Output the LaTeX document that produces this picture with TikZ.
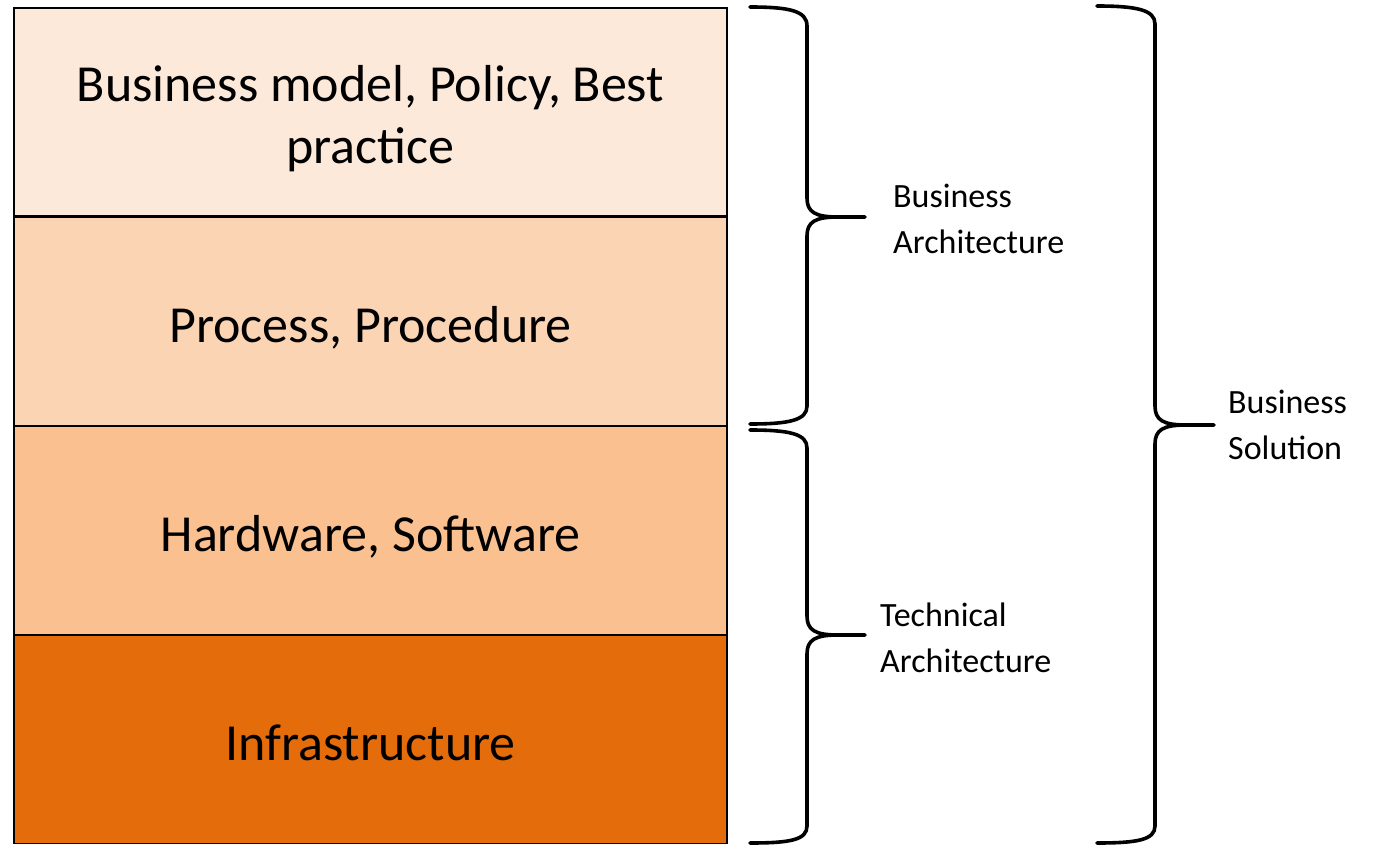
\documentclass[tikz,border=0pt]{standalone}
\usepackage{fontspec}
\setmainfont{Carlito}
\usepackage{tikz}
\usetikzlibrary{positioning}

\definecolor{tierA}{HTML}{FDE9D9}
\definecolor{tierB}{HTML}{FBD4B4}
\definecolor{tierC}{HTML}{FAC090}
\definecolor{tierD}{HTML}{E46C0A}

\tikzset{
  layer/.style={draw=black,line width=1.1pt,minimum width=713pt,minimum height=208pt,
    inner sep=0pt,align=center,text height=54pt,text depth=12pt,
    font=\fontsize{52}{62}\selectfont},
  archbrace/.style={draw=black,line width=3.6pt,line join=round,line cap=round},
  scope label/.style={anchor=west,align=left,inner sep=0pt,font=\fontsize{34}{46}\selectfont}
}

\begin{document}
\begin{tikzpicture}[x=1pt,y=-1pt]
\useasboundingbox (0,0) rectangle (1390,848);
\begin{scope}[shift={(0,0)}]
\node[layer,fill=tierA,text height=116pt] (model) at (370.5,112) {Business model, Policy, Best\\practice};
\node[layer,fill=tierB,below=0pt of model] (process) {Process, Procedure};
\node[layer,fill=tierC,below=0pt of process] (ware) {Hardware, Software};
\node[layer,fill=tierD,below=0pt of ware] (infra) {Infrastructure};
\end{scope}
\begin{scope}[shift={(0,0)}]
\draw[archbrace] (750,7) .. controls (790,7) and (807,11) .. (807,26) -- (807,198)
  .. controls (807,212) and (815,217) .. (838,217) -- (865,217) -- (838,217)
  .. controls (815,217) and (807,222) .. (807,236) -- (807,406)
  .. controls (807,420) and (790,424) .. (750,424);
\draw[archbrace] (750,430) .. controls (790,430) and (807,434) .. (807,448) -- (807,616)
  .. controls (807,630) and (815,635) .. (838,635) -- (865,635) -- (838,635)
  .. controls (815,635) and (807,640) .. (807,654) -- (807,826)
  .. controls (807,840) and (790,843) .. (750,843);
\draw[archbrace] (1097,6) .. controls (1137,6) and (1155,10) .. (1155,24) -- (1155,406)
  .. controls (1155,420) and (1163,425) .. (1186,425) -- (1214,425) -- (1186,425)
  .. controls (1163,425) and (1155,430) .. (1155,444) -- (1155,826)
  .. controls (1155,840) and (1137,843) .. (1097,843);
\node[scope label] (busarch) at (893,219) {Business\\Architecture};
\node[scope label] (techarch) at (880,638) {Technical\\Architecture};
\node[scope label] (bussol) at (1228,425) {Business\\Solution};
\end{scope}
\end{tikzpicture}
\end{document}
